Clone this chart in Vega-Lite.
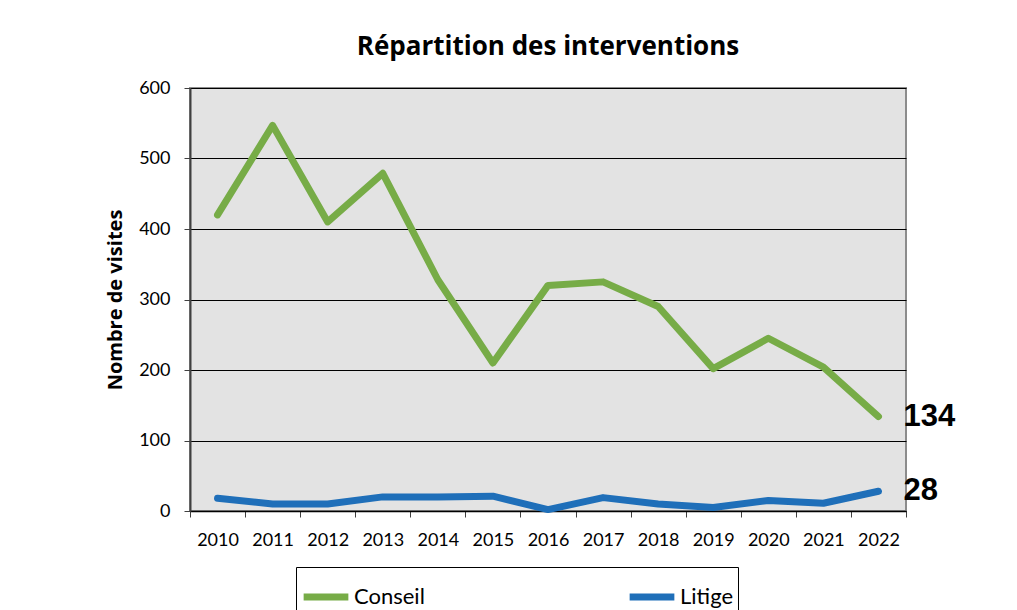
{
  "$schema": "https://vega.github.io/schema/vega-lite/v6.json",
  "width": 716,
  "height": 423,
  "autosize": "none",
  "padding": {"left": 190, "top": 88, "right": 111, "bottom": 99},
  "background": "white",
  "title": {
    "text": "Répartition des interventions",
    "font": "Open Sans",
    "fontSize": 26,
    "fontWeight": "bold",
    "color": "black",
    "anchor": "middle",
    "offset": 19
  },
  "config": {
    "view": {"fill": "#e3e3e3", "stroke": "#8c8c8c", "strokeWidth": 2},
    "axis": {
      "labelFont": "Lato",
      "labelFontSize": 18,
      "labelColor": "black",
      "titleColor": "black"
    }
  },
  "data": {
    "values": [
      {"annee": 2010, "type": "Conseil", "valeur": 420},
      {"annee": 2011, "type": "Conseil", "valeur": 547},
      {"annee": 2012, "type": "Conseil", "valeur": 410},
      {"annee": 2013, "type": "Conseil", "valeur": 479},
      {"annee": 2014, "type": "Conseil", "valeur": 328},
      {"annee": 2015, "type": "Conseil", "valeur": 210},
      {"annee": 2016, "type": "Conseil", "valeur": 320},
      {"annee": 2017, "type": "Conseil", "valeur": 325},
      {"annee": 2018, "type": "Conseil", "valeur": 290},
      {"annee": 2019, "type": "Conseil", "valeur": 202},
      {"annee": 2020, "type": "Conseil", "valeur": 245},
      {"annee": 2021, "type": "Conseil", "valeur": 204},
      {"annee": 2022, "type": "Conseil", "valeur": 134},
      {"annee": 2010, "type": "Litige", "valeur": 18},
      {"annee": 2011, "type": "Litige", "valeur": 10},
      {"annee": 2012, "type": "Litige", "valeur": 10},
      {"annee": 2013, "type": "Litige", "valeur": 20},
      {"annee": 2014, "type": "Litige", "valeur": 20},
      {"annee": 2015, "type": "Litige", "valeur": 21},
      {"annee": 2016, "type": "Litige", "valeur": 2},
      {"annee": 2017, "type": "Litige", "valeur": 19},
      {"annee": 2018, "type": "Litige", "valeur": 10},
      {"annee": 2019, "type": "Litige", "valeur": 5},
      {"annee": 2020, "type": "Litige", "valeur": 15},
      {"annee": 2021, "type": "Litige", "valeur": 11},
      {"annee": 2022, "type": "Litige", "valeur": 28}
    ]
  },
  "encoding": {
    "x": {
      "field": "annee",
      "type": "ordinal",
      "scale": {"paddingInner": 0, "paddingOuter": 0},
      "axis": {
        "title": null,
        "labelAngle": 0,
        "tickBand": "extent",
        "tickSize": 6,
        "tickColor": "#404040",
        "domainColor": "#000000",
        "domainWidth": 1.5,
        "labelPadding": 14
      }
    },
    "y": {
      "field": "valeur",
      "type": "quantitative",
      "scale": {"domain": [0, 600], "nice": false},
      "axis": {
        "values": [0, 100, 200, 300, 400, 500, 600],
        "title": "Nombre de visites",
        "titleFont": "Open Sans",
        "titleFontSize": 20,
        "titleFontWeight": "bold",
        "titlePadding": 13,
        "grid": true,
        "gridColor": "#000000",
        "gridWidth": 1,
        "domainColor": "#404040",
        "domainWidth": 2,
        "tickColor": "#404040",
        "tickSize": 6,
        "labelPadding": 14
      }
    }
  },
  "layer": [
    {
      "mark": {"type": "line", "strokeWidth": 7, "strokeCap": "round", "strokeJoin": "round"},
      "encoding": {
        "color": {
          "field": "type",
          "type": "nominal",
          "scale": {"domain": ["Conseil", "Litige"], "range": ["#77ac47", "#1f6fb9"]},
          "legend": {
            "title": null,
            "orient": "none",
            "direction": "horizontal",
            "legendX": 106,
            "legendY": 479,
            "symbolType": "stroke",
            "symbolStrokeWidth": 7,
            "symbolSize": 2000,
            "labelFont": "Lato",
            "labelFontSize": 22,
            "labelColor": "black",
            "labelOffset": 2,
            "columnPadding": 190,
            "strokeColor": "#000000",
            "padding": 4
          }
        }
      }
    },
    {
      "transform": [{"filter": "datum.annee == 2022"}],
      "mark": {
        "type": "text",
        "align": "left",
        "baseline": "middle",
        "dx": 25,
        "font": "Liberation Sans",
        "fontSize": 31,
        "fontWeight": "bold",
        "color": "black"
      },
      "encoding": {"text": {"field": "valeur", "type": "quantitative"}}
    }
  ]
}
